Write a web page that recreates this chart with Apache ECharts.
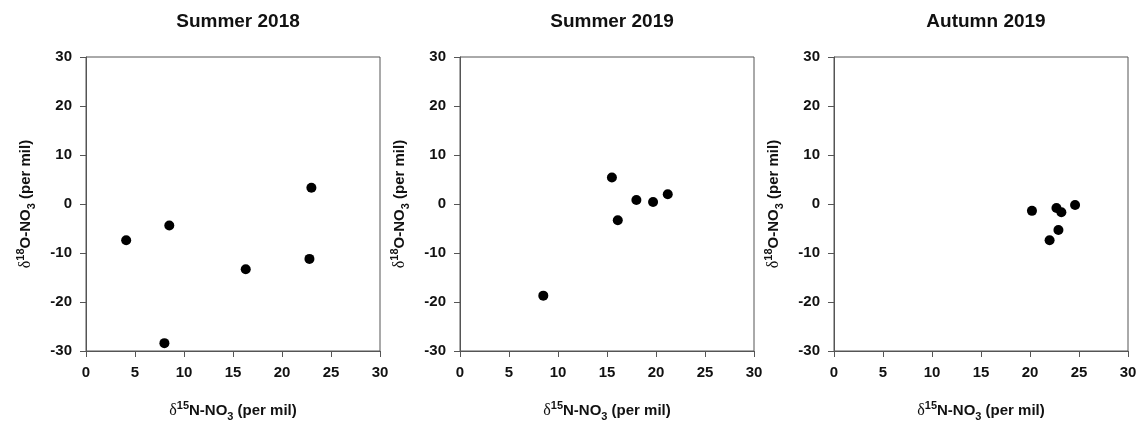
<!DOCTYPE html>
<html>
<head>
<meta charset="utf-8">
<script src="https://cdn.jsdelivr.net/npm/echarts@6/dist/echarts.min.js"></script>
<style>
  html, body { margin: 0; padding: 0; background: #fff; }
  #chart { width: 1146px; height: 421px; }
</style>
</head>
<body>
<div id="chart"></div>
<script>
// Nitrate isotope pairs per sampling season: [δ15N, δ18O] in per mil
const panelTitles = ['Summer 2018', 'Summer 2019', 'Autumn 2019'];
const summer2018 = [[4.1, -7.4], [8.5, -4.4], [8.0, -28.4], [16.3, -13.3], [22.8, -11.2], [23.0, 3.3]];
const summer2019 = [[8.5, -18.7], [15.5, 5.4], [16.1, -3.3], [18.0, 0.8], [19.7, 0.4], [21.2, 2.0]];
const autumn2019 = [[20.2, -1.4], [22.0, -7.4], [22.7, -0.8], [22.9, -5.3], [23.2, -1.7], [24.6, -0.2]];
const xTicks = { min: 0, max: 30, interval: 5 };
const yTicks = { min: -30, max: 30, interval: 10 };

const seasons = [summer2018, summer2019, autumn2019];
const gridLefts = [86, 460, 834];
const plotSize = 294;
const frameColor = '#555';
const font = 'Liberation Sans, Arial, sans-serif';

const nameRich = {
  d: { fontFamily: 'Liberation Serif, serif', fontWeight: 'normal', fontSize: 16, color: '#111', lineHeight: 22 },
  b: { fontFamily: font, fontWeight: 'bold', fontSize: 15, color: '#111', lineHeight: 22 },
  sup: { fontFamily: font, fontWeight: 'bold', fontSize: 11, color: '#111', verticalAlign: 'top', lineHeight: 22 },
  sub: { fontFamily: font, fontWeight: 'bold', fontSize: 11, color: '#111', verticalAlign: 'bottom', lineHeight: 22 }
};

const axisCommon = {
  axisLine: { show: true, onZero: false, lineStyle: { color: frameColor, width: 1 } },
  axisTick: { show: true, inside: false, length: 6, lineStyle: { color: frameColor, width: 1 } },
  splitLine: { show: false }
};
const tickFont = { color: '#111', fontFamily: font, fontWeight: 'bold', fontSize: 15 };

const grid = [], xAxis = [], yAxis = [], series = [], title = [];
seasons.forEach((data, i) => {
  grid.push({
    left: gridLefts[i], top: 57, width: plotSize, height: plotSize,
    outerBoundsMode: 'none', containLabel: false,
    show: true, borderColor: frameColor, borderWidth: 1, backgroundColor: '#fff'
  });
  xAxis.push(Object.assign({
    type: 'value', gridIndex: i, min: xTicks.min, max: xTicks.max, interval: xTicks.interval,
    axisLabel: Object.assign({ margin: 14 }, tickFont),
    name: '{d|δ}{sup|15}{b|N-NO}{sub|3}{b| (per mil)}',
    nameLocation: 'middle', nameGap: 49,
    nameTextStyle: { rich: nameRich }
  }, axisCommon));
  yAxis.push(Object.assign({
    type: 'value', gridIndex: i, min: yTicks.min, max: yTicks.max, interval: yTicks.interval,
    axisLabel: Object.assign({ margin: 14 }, tickFont),
    name: '{d|δ}{sup|18}{b|O-NO}{sub|3}{b| (per mil)}',
    nameLocation: 'middle', nameGap: 49, nameRotate: 90,
    nameTextStyle: { rich: nameRich }
  }, axisCommon));
  series.push({
    type: 'scatter', xAxisIndex: i, yAxisIndex: i, data: data,
    symbol: 'circle', symbolSize: 10,
    itemStyle: { color: '#000', opacity: 1 }
  });
  title.push({
    text: panelTitles[i],
    left: gridLefts[i] + plotSize / 2, top: 7, textAlign: 'center',
    textStyle: { fontFamily: font, fontWeight: 'bold', fontSize: 19, color: '#111' }
  });
});

const chart = echarts.init(document.getElementById('chart'), null, { renderer: 'canvas' });
chart.setOption({
  animation: false,
  backgroundColor: '#fff',
  title: title,
  grid: grid,
  xAxis: xAxis,
  yAxis: yAxis,
  series: series
});
</script>
</body>
</html>
